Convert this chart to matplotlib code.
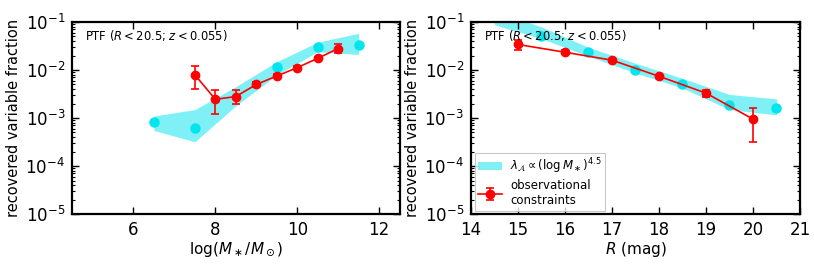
import matplotlib
matplotlib.use("Agg")
import matplotlib.pyplot as plt
from matplotlib.ticker import LogLocator, NullFormatter

# ---- left panel: stellar mass ----
mass_model_x = [6.5, 7.5, 8.5, 9.5, 10.5, 11.5]
mass_band_lo = [0.00055, 0.00032, 0.0018, 0.0079, 0.024, 0.021]
mass_band_hi = [0.0011, 0.0015, 0.0045, 0.0149, 0.038, 0.058]
mass_pts_x = [6.5, 7.5, 9.5, 10.5, 11.5]
mass_pts_y = [0.00082, 0.00063, 0.0114, 0.0296, 0.033]

mass_obs_x = [7.5, 8.0, 8.5, 9.0, 9.5, 10.0, 10.5, 11.0]
mass_obs_y = [0.0079, 0.00245, 0.0028, 0.0050, 0.0075, 0.0112, 0.0175, 0.028]
mass_obs_lo = [0.0040, 0.0012, 0.0020, 0.0045, 0.0070, 0.0105, 0.0165, 0.0223]
mass_obs_hi = [0.012, 0.0039, 0.0039, 0.0056, 0.0081, 0.0120, 0.0186, 0.035]

# ---- right panel: R magnitude ----
mag_model_x = [14.5, 15.5, 16.5, 17.5, 18.5, 19.5, 20.5]
mag_band_lo = [0.087, 0.045, 0.0193, 0.0087, 0.0042, 0.0015, 0.00116]
mag_band_hi = [0.17, 0.079, 0.0296, 0.0138, 0.0067, 0.0031, 0.0025]
mag_pts_x = [15.5, 16.5, 17.5, 18.5, 19.5, 20.5]
mag_pts_y = [0.052, 0.0237, 0.010, 0.0051, 0.0019, 0.00158]

mag_obs_x = [15, 16, 17, 18, 19, 20]
mag_obs_y = [0.034, 0.0234, 0.016, 0.0074, 0.0033, 0.00095]
mag_obs_lo = [0.026, 0.0215, 0.0150, 0.0069, 0.0027, 0.00031]
mag_obs_hi = [0.043, 0.0255, 0.0171, 0.0080, 0.0038, 0.00159]

cyan = "#00e5ee"
red = "#ff0000"

plt.rcParams["font.family"] = ["DejaVu Sans"]
plt.rcParams["mathtext.fontset"] = "dejavusans"

fig = plt.figure(figsize=(8.14, 2.71), dpi=100)
ax1 = fig.add_axes([0.0885, 0.210, 0.4025, 0.709])
ax2 = fig.add_axes([0.5786, 0.210, 0.4042, 0.709])


def draw(ax, mx, lo, hi, px, py, ox, oy, olo, ohi):
    band = ax.fill_between(mx, lo, hi, color=cyan, alpha=0.5, lw=0,
                           label=r"$\lambda_\mathcal{A}\propto(\log M_\ast)^{4.5}$")
    ax.plot(px, py, "o", color=cyan, ms=6.5, mec=cyan, zorder=3)
    yerr = [[y - l for y, l in zip(oy, olo)], [h - y for y, h in zip(oy, ohi)]]
    eb = ax.errorbar(ox, oy, yerr=yerr, color=red, marker="o", ms=6, mec=red,
                     lw=1.2, elinewidth=1.2, capsize=3, capthick=1.2, zorder=4,
                     label="observational\nconstraints")
    ax.set_yscale("log")
    ax.set_ylim(1e-5, 1e-1)
    ax.yaxis.set_major_locator(LogLocator(base=10, numticks=10))
    ax.yaxis.set_minor_locator(LogLocator(base=10, subs=range(2, 10), numticks=20))
    ax.yaxis.set_minor_formatter(NullFormatter())
    ax.tick_params(which="both", direction="in", top=True, right=True)
    ax.tick_params(which="major", length=5, width=1, labelsize=12, pad=5)
    ax.tick_params(which="minor", length=2.5, width=0.8)
    for s in ax.spines.values():
        s.set_linewidth(1.6)
    ax.set_ylabel("recovered variable fraction", fontsize=10.5)
    ax.yaxis.set_label_coords(-0.155, 0.5)
    ax.text(0.04, 0.93, r"PTF ($R < 20.5$; $z < 0.055$)", transform=ax.transAxes,
            fontsize=8.3, va="center", ha="left", zorder=5)
    return band, eb


draw(ax1, mass_model_x, mass_band_lo, mass_band_hi, mass_pts_x, mass_pts_y,
     mass_obs_x, mass_obs_y, mass_obs_lo, mass_obs_hi)
ax1.set_xlim(4.5, 12.5)
ax1.set_xticks([6, 8, 10, 12])
ax1.set_xlabel(r"$\log(M_\ast/M_\odot)$", fontsize=11, labelpad=1)

draw(ax2, mag_model_x, mag_band_lo, mag_band_hi, mag_pts_x, mag_pts_y,
     mag_obs_x, mag_obs_y, mag_obs_lo, mag_obs_hi)
ax2.set_xlim(14, 21)
ax2.set_xticks(range(14, 22))
ax2.set_xlabel(r"$R$ (mag)", fontsize=11, labelpad=1)
leg = ax2.legend(loc="lower left", fontsize=8.5, frameon=True, fancybox=False,
                 handlelength=2.0, borderpad=0.3, labelspacing=0.25,
                 handletextpad=0.7, borderaxespad=0.3)
leg.get_frame().set_edgecolor("#bbbbbb")
leg.get_frame().set_linewidth(0.8)

fig.savefig("out.png", dpi=100)
